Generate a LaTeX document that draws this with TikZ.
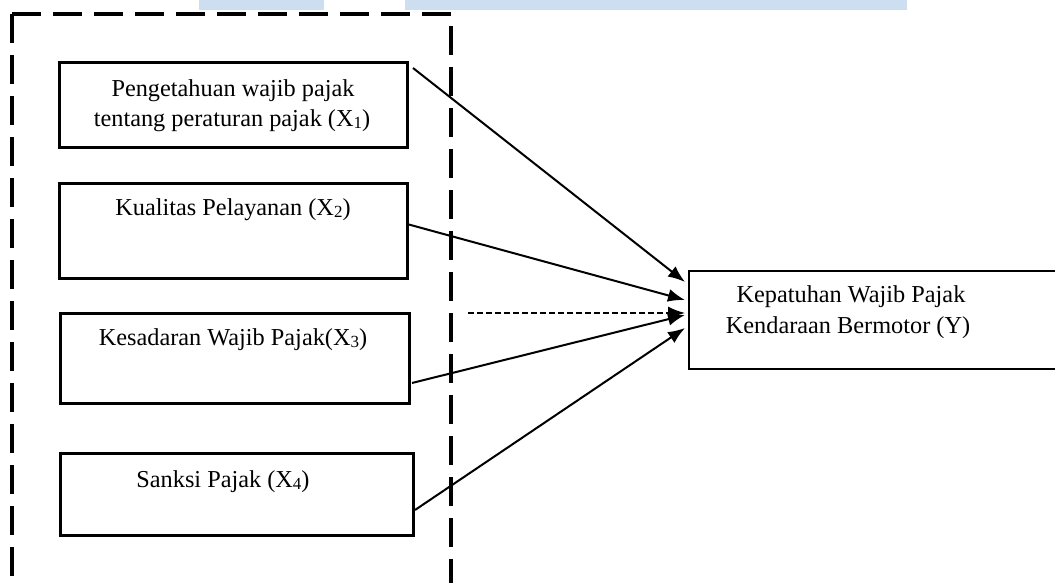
\documentclass[tikz,border=0pt]{standalone}
\usepackage{fontspec}
\setmainfont{Liberation Serif}
\usetikzlibrary{arrows.meta}
\definecolor{barblue}{RGB}{205,222,240}
\newcommand{\sbs}[1]{\raisebox{-2pt}{\fontsize{17}{17}\selectfont #1}}
\tikzset{
  varbox/.style={draw, line width=3pt, rectangle, inner sep=0pt},
  ybox/.style={draw, line width=1.6pt, rectangle, inner sep=0pt},
  lbl/.style={anchor=base, inner sep=0pt, font=\fontsize{24.3}{29}\selectfont},
  conn/.style={line width=2pt, -{Latex[length=17pt,width=13pt]}},
  dconn/.style={line width=1.5pt, dash pattern=on 6pt off 3pt, -{Latex[length=17pt,width=13pt]}},
  frame/.style={line width=4pt, dash pattern=on 29pt off 12pt}
}
\begin{document}
\begin{tikzpicture}[x=1pt,y=-1pt]
\useasboundingbox (0,0) rectangle (1055,583);
% top bars
\fill[barblue] (199,0) rectangle (324,10);
\fill[barblue] (405,0) rectangle (907,10);
% dashed frame
\draw[frame] (12,14) -- (12,600);
\draw[frame] (12,14) -- (451,14) -- (451,600);
% boxes
\node[varbox, minimum width=348pt, minimum height=85pt] (b1) at (233,105.5) {};
\node[varbox, minimum width=348pt, minimum height=95pt] (b2) at (233,230.5) {};
\node[varbox, minimum width=349pt, minimum height=90pt] (b3) at (234.5,358) {};
\node[varbox, minimum width=353pt, minimum height=82pt] (b4) at (236.5,494) {};
\node[ybox, minimum width=370pt, minimum height=98pt] (y) at (874,320) {};
% texts
\node[lbl] (t1a) at (233,97) {Pengetahuan wajib pajak};
\node[lbl] (t1b) at (232,127) {tentang peraturan pajak (X\sbs{1})};
\node[lbl] (t2) at (233,215) {Kualitas Pelayanan (X\sbs{2})};
\node[lbl] (t3) at (233,345) {Kesadaran Wajib Pajak(X\sbs{3})};
\node[lbl] (t4) at (223,487) {Sanksi Pajak (X\sbs{4})};
\node[lbl] (ya) at (851,302) {Kepatuhan Wajib Pajak};
\node[lbl] (yb) at (848,333) {Kendaraan Bermotor (Y)};
% connector ends
\coordinate (s1) at (413,68);
\coordinate (s2) at (407,224);
\coordinate (s3) at (412,383);
\coordinate (s4) at (415,510);
\coordinate (sd) at (468,313);
\coordinate (e1) at (685,282);
\coordinate (e2) at (685,300);
\coordinate (ed) at (685,313);
\coordinate (e3) at (685,315);
\coordinate (e4) at (685,328);
\draw[conn] (s1) -- (e1);
\draw[conn] (s2) -- (e2);
\draw[dconn] (sd) -- (ed);
\draw[conn] (s3) -- (e3);
\draw[conn] (s4) -- (e4);
\end{tikzpicture}
\end{document}
